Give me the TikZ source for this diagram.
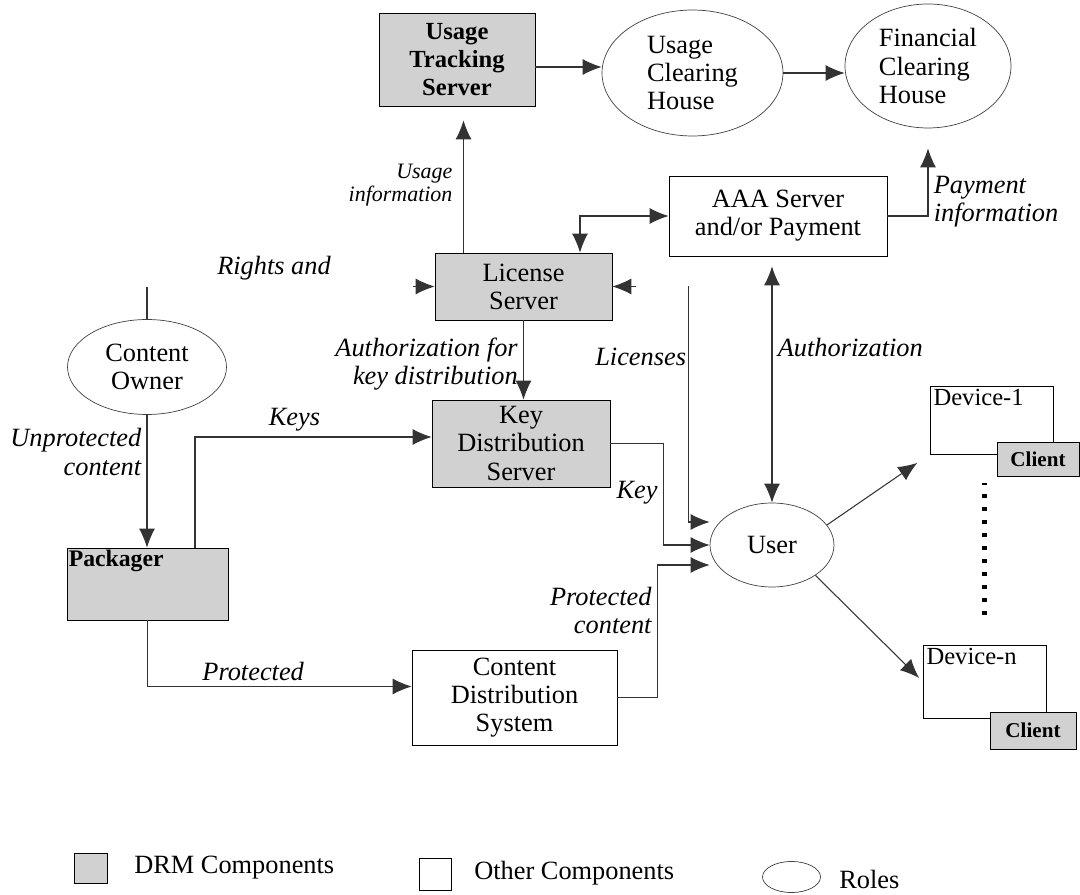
\documentclass[tikz,border=0pt]{standalone}
\usepackage{fontspec}
\setmainfont{Liberation Serif}
\usetikzlibrary{arrows.meta,shapes.geometric}

\begin{document}
\begin{tikzpicture}[x=0.02cm,y=-0.02cm]
        \tikzset{drm/.style = {shape=rectangle,draw,fill=black!18,inner sep=1pt,align=center,font=\fontsize{15}{16}\selectfont}}
        \tikzset{other/.style = {shape=rectangle,draw,fill=white,inner sep=1pt,align=center,font=\fontsize{15}{16}\selectfont}}
        \tikzset{role/.style = {shape=ellipse,draw=black!75,inner sep=0pt,font=\fontsize{15}{16}\selectfont}}
        \tikzset{edge/.style = {->,draw=black!80,line width=0.6pt,> = {Latex[length=0.38cm,width=0.32cm]}}}
        \tikzset{lbl/.style = {font=\fontsize{15}{16}\selectfont\itshape,inner sep=3pt}}
        \tikzset{dotline/.style = {line width=2.3pt,dash pattern=on 2.3pt off 5.1pt}}
        \useasboundingbox (0,0) rectangle (1080,895);
        % vertices
        \node[drm,minimum width=3.12cm,minimum height=1.86cm,font=\fontsize{14}{16}\selectfont\bfseries] (uts) at (457,59.5) {Usage\\Tracking\\Server};
        \node[role,minimum width=3.62cm,minimum height=2.52cm,align=left] (uch) at (692.5,73) {Usage\\Clearing\\House};
        \node[role,minimum width=3.32cm,minimum height=2.48cm,align=left] (fch) at (928,66) {Financial\\Clearing\\House};
        \node[other,minimum width=4.36cm,minimum height=1.6cm] (aaa) at (778,216) {AAA Server\\and/or Payment};
        \node[drm,minimum width=3.54cm,minimum height=1.34cm] (ls) at (523.5,286.5) {License\\Server};
        \node[drm,minimum width=3.56cm,minimum height=1.74cm] (kds) at (521,443.5) {Key\\Distribution\\Server};
        \node[role,minimum width=3.18cm,minimum height=1.9cm,align=center] (co) at (147,367) {Content\\Owner};
        \node[drm,minimum width=3.22cm,minimum height=1.44cm,
              label={[anchor=north west,inner sep=1pt,font=\fontsize{13.5}{16}\selectfont\bfseries]north west:Packager}] (pkg) at (147.5,584) {};
        \node[other,minimum width=4.1cm,minimum height=1.9cm] (cds) at (514.5,697.5) {Content\\Distribution\\System};
        \node[role,minimum width=2.48cm,minimum height=1.68cm] (user) at (772,545) {User};
        \node[other,minimum width=2.46cm,minimum height=1.36cm,
              label={[anchor=north west,inner sep=2pt,font=\fontsize{14}{16}\selectfont]north west:Device-1}] (dev1) at (991.5,420) {};
        \node[drm,minimum width=1.64cm,minimum height=0.68cm,font=\fontsize{12}{14}\selectfont\bfseries] (cl1) at (1038,459) {Client};
        \node[other,minimum width=2.46cm,minimum height=1.46cm,
              label={[anchor=north west,inner sep=2pt,font=\fontsize{14}{16}\selectfont]north west:Device-n}] (devn) at (984.5,681.5) {};
        \node[drm,minimum width=1.72cm,minimum height=0.74cm,font=\fontsize{12}{14}\selectfont\bfseries] (cln) at (1033,730.5) {Client};
        \node[lbl] (rights) at (274,268) {Rights and};
        % legend
        \node[drm,minimum width=0.66cm,minimum height=0.6cm] (lgdrm) at (91,868) {};
        \node[anchor=west,inner sep=0pt,font=\fontsize{15}{16}\selectfont] (lgdrmtxt) at (134,868) {DRM Components};
        \node[other,minimum width=0.64cm,minimum height=0.64cm] (lgother) at (435,874) {};
        \node[anchor=west,inner sep=0pt,font=\fontsize{15}{16}\selectfont] (lgothertxt) at (474,873) {Other Components};
        \node[role,minimum width=1.16cm,minimum height=0.62cm] (lgrole) at (791.5,877) {};
        \node[anchor=west,inner sep=0pt,font=\fontsize{15}{16}\selectfont] (lgroletxt) at (839,879) {Roles};
        % helper points
        \coordinate (ui) at ([xshift=-1.2cm]ls.north);
        \coordinate (la) at ([xshift=1.13cm]ls.north);
        \coordinate (lsl) at ([xshift=-0.44cm]ls.west);
        \coordinate (lsr) at ([xshift=0.48cm]ls.east);
        \coordinate (lic) at ([xshift=1.52cm]ls.east);
        \coordinate (owner) at ([yshift=0.65cm]co.north);
        \coordinate (pk) at ([xshift=0.95cm]pkg.north);
        \coordinate (kk) at ([xshift=1.06cm]kds.east);
        \coordinate (pc) at ([xshift=0.8cm]cds.east);
        \coordinate (ut) at ([yshift=-0.15cm]uts.east);
        %edges
        \draw[edge] (ut) -- (ut -| uch.west);
        \draw[edge] (uch.east) -- (uch.east -| fch.west);
        \draw[edge,shorten >=0.28cm] (ui) -- node[lbl,left,pos=0.46,align=right,inner sep=6pt,font=\fontsize{12.5}{13}\selectfont\itshape] {Usage\\information} (ui |- uts.south);
        \draw[edge,<->] (la) |- (aaa.west);
        \draw[edge,shorten >=0.4cm] (aaa.east) -| node[lbl,right,pos=0.58,align=left] {Payment\\information} (fch.south);
        \draw[edge,<->,shorten <=0.2cm] (user.north |- aaa.south) -- node[lbl,right,pos=0.37] {Authorization} (user.north);
        \draw[edge] (lsl) -- (ls.west);
        \draw[edge] (lsr) -- (ls.east);
        \draw[edge] (ls.south) -- node[lbl,left,pos=0.55,align=right] {Authorization for\\key distribution} (ls.south |- kds.north);
        \draw[draw=black!80,line width=0.6pt] (co.north) -- (owner);
        \draw[edge] (co.south) -- node[lbl,left,pos=0.28,align=right] {Unprotected\\content} (co.south |- pkg.north);
        \draw[edge] (pk) |- node[lbl,above,pos=0.71] {Keys} ([yshift=0.13cm]kds.west);
        \draw[edge] (kds.east) -- (kk) |- node[lbl,left,pos=0.24] {Key} (user.west);
        \draw[edge] (lic) |- node[lbl,left,pos=0.15,inner sep=1pt] {Licenses} ([yshift=0.46cm]user.west);
        \draw[edge] (cds.east) -- (pc) |- node[lbl,left,pos=0.33,align=right] {Protected\\content} ([yshift=-0.4cm]user.west);
        \draw[edge] (pkg.south) |- node[lbl,above,pos=0.7] {Protected} ([yshift=0.22cm]cds.west);
        \draw[edge,shorten >=0.3cm] (user.20) -- (dev1.south west);
        \draw[edge,shorten >=0.1cm] (user.-35) -- (devn.west);
        \draw[dotline] ([yshift=0.6cm]devn.north) -- ([yshift=3.24cm]devn.north);
\end{tikzpicture}
\end{document}
